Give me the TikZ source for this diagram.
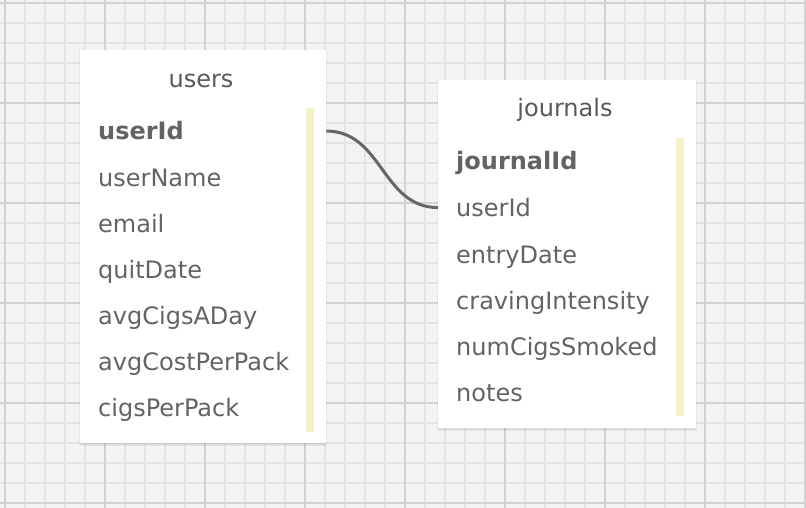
\documentclass[tikz,border=0pt]{standalone}
\usepackage{fontspec}
\setmainfont{DejaVu Sans}
\usetikzlibrary{shadows}
\definecolor{bgcol}{HTML}{F3F3F3}
\definecolor{minorcol}{HTML}{E4E4E4}
\definecolor{majorcol}{HTML}{D2D2D2}
\definecolor{txtcol}{HTML}{636363}
\definecolor{titlecol}{HTML}{595959}
\definecolor{barcol}{HTML}{F3F1CB}
\definecolor{conncol}{HTML}{666666}
\begin{document}
\begin{tikzpicture}[x=1pt,y=-1pt,
  minorline/.style={draw=minorcol,line width=1.4pt},
  majorline/.style={draw=majorcol,line width=1.8pt},
  tablebox/.style={fill=white,draw=none,inner sep=0pt,anchor=north west,
    general shadow={fill=black,opacity=.05,shadow scale=1.006,shadow yshift=-1pt},
    general shadow={fill=black,opacity=.05,shadow yshift=-2.5pt}},
  field/.style={anchor=base west,inner sep=0pt,text=txtcol,
    font=\fontsize{24}{28}\selectfont},
  keyfield/.style={field,font=\fontsize{24}{28}\selectfont\bfseries},
  tabletitle/.style={anchor=base,inner sep=0pt,text=titlecol,
    font=\fontsize{24}{28}\selectfont},
  barbox/.style={fill=barcol,draw=none,inner sep=0pt,anchor=north west,minimum width=8pt},
  conn/.style={draw=conncol,line width=3pt}
]
\useasboundingbox (0,0) rectangle (806,508);
\fill[bgcol] (0,0) rectangle (806,508);
% grid
\foreach \x in {5,25,...,805} \draw[minorline] (\x,0) -- (\x,508);
\foreach \y in {3,23,...,503} \draw[minorline] (0,\y) -- (806,\y);
\foreach \x in {5,105,...,805} \draw[majorline] (\x,0) -- (\x,508);
\foreach \y in {3,103,...,503} \draw[majorline] (0,\y) -- (806,\y);

% users table
\node[tablebox,minimum width=246pt,minimum height=393pt] (users) at (80,50) {};
\node[barbox,minimum height=324pt] (ubar) at (306,108) {};
\node[tabletitle] (utitle) at (201,88) {users};
\node[keyfield] (u1) at (98,140) {userId};
\node[field] (u2) at (98,186.5) {userName};
\node[field] (u3) at (98,232.5) {email};
\node[field] (u4) at (98,278.5) {quitDate};
\node[field] (u5) at (98,324.5) {avgCigsADay};
\node[field] (u6) at (98,370.5) {avgCostPerPack};
\node[field] (u7) at (98,416.5) {cigsPerPack};

% journals table
\node[tablebox,minimum width=258pt,minimum height=348pt] (journals) at (438,80) {};
\node[barbox,minimum height=278pt] (jbar) at (676,138) {};
\node[tabletitle] (jtitle) at (565,117) {journals};
\node[keyfield] (j1) at (456,170) {journalId};
\node[field] (j2) at (456,216.5) {userId};
\node[field] (j3) at (456,263) {entryDate};
\node[field] (j4) at (456,309) {cravingIntensity};
\node[field] (j5) at (456,355) {numCigsSmoked};
\node[field] (j6) at (456,401) {notes};

% connector
\draw[conn] (users.east |- u1.center) .. controls +(56,0) and +(-56,0) .. (journals.west |- j2.center);
\end{tikzpicture}
\end{document}
